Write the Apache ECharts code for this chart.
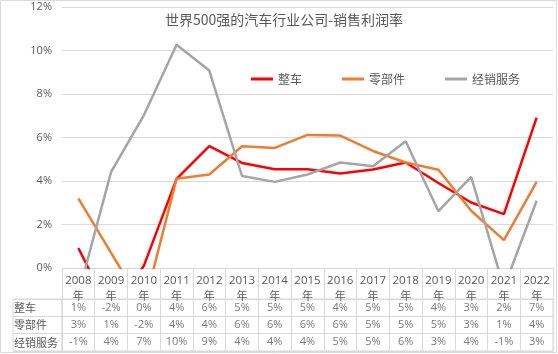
<!DOCTYPE html>
<html>
<head>
<meta charset="utf-8">
<script src="https://cdn.jsdelivr.net/npm/echarts@6/dist/echarts.min.js"></script>
<style>
  html, body { margin: 0; padding: 0; background: #fff; }
  #main { width: 558px; height: 354px; }
</style>
</head>
<body>
<div id="main"></div>
<script>
// 数据
var years = ['2008', '2009', '2010', '2011', '2012', '2013', '2014', '2015', '2016', '2017', '2018', '2019', '2020', '2021', '2022'];
var rowNames = ['整车', '零部件', '经销服务'];
var zhengche = [0.92, -2.1, 0.1, 4.1, 5.6, 4.83, 4.54, 4.54, 4.34, 4.53, 4.85, 3.91, 3.01, 2.48, 6.91];
var lingbujian = [3.2, 0.7, -1.8, 4.1, 4.3, 5.6, 5.52, 6.12, 6.09, 5.38, 4.85, 4.52, 2.63, 1.28, 3.96];
var jingxiao = [-1.2, 4.42, 7.02, 10.26, 9.08, 4.23, 3.96, 4.3, 4.85, 4.68, 5.83, 2.61, 4.19, -0.9, 3.09];
var yTicks = [0, 2, 4, 6, 8, 10, 12];

var colors = ['#ff0000', '#ed7d31', '#a5a5a5'];
var allSeries = [zhengche, lingbujian, jingxiao];
var lineGray = '#d9d9d9';
var txt = '#595959';
var numFont = 'Open Sans';
var cjkFont = 'Noto Sans CJK SC';

var myChart = echarts.init(document.getElementById('main'));

// 折线
var series = rowNames.map(function (name, k) {
  return {
    name: name,
    type: 'line',
    xAxisIndex: 0,
    yAxisIndex: 0,
    data: allSeries[k],
    symbol: 'none',
    lineStyle: { color: colors[k], width: 2.5 },
    itemStyle: { color: colors[k] },
    clip: true
  };
});

// 数据表格(每行一组文字)
rowNames.forEach(function (name, k) {
  series.push({
    type: 'scatter',
    xAxisIndex: 1,
    yAxisIndex: 1,
    symbolSize: 1,
    itemStyle: { color: 'rgba(0,0,0,0)' },
    silent: true,
    data: allSeries[k].map(function (v, i) { return [years[i], name, v]; }),
    label: {
      show: true,
      position: 'inside',
      color: txt,
      fontFamily: numFont,
      fontSize: 11,
      formatter: function (p) { return Math.round(p.value[2]) + '%'; }
    }
  });
});

var option = {
  animation: false,
  title: {
    text: '世界500强的汽车行业公司-销售利润率',
    left: 279,
    textAlign: 'center',
    top: 8,
    textStyle: { color: txt, fontSize: 14, fontWeight: 'normal', fontFamily: cjkFont }
  },
  legend: {
    left: 246,
    top: 68,
    itemWidth: 22,
    itemHeight: 3,
    itemGap: 40,
    icon: 'rect',
    data: rowNames,
    textStyle: { color: txt, fontSize: 12, fontFamily: cjkFont }
  },
  graphic: [{
    type: 'rect',
    shape: { x: 0.5, y: 0.5, width: 556, height: 352 },
    style: { fill: 'none', stroke: lineGray, lineWidth: 1 },
    silent: true
  }],
  grid: [
    { left: 62, right: 5, top: 7, height: 261 },
    { left: 62, right: 5, top: 299, height: 52, show: true, borderColor: lineGray, borderWidth: 1 },
    { left: 13, width: 49, top: 299, height: 52, show: true, borderColor: lineGray, borderWidth: 1 }
  ],
  xAxis: [
    {
      gridIndex: 0,
      type: 'category',
      data: years,
      boundaryGap: true,
      axisLine: { lineStyle: { color: lineGray, width: 1 } },
      axisTick: { show: true, length: 31, interval: 0, lineStyle: { color: lineGray } },
      axisLabel: {
        interval: 0,
        margin: 5,
        color: txt,
        fontSize: 11.5,
        lineHeight: 15,
        fontFamily: numFont,
        formatter: function (v) { return v + '\n{n|年}'; },
        rich: { n: { fontFamily: cjkFont, fontSize: 11, color: txt, lineHeight: 15 } }
      }
    },
    {
      gridIndex: 1,
      type: 'category',
      data: years,
      boundaryGap: true,
      axisLine: { show: false },
      axisTick: { show: false },
      axisLabel: { show: false },
      splitLine: { show: true, interval: 0, lineStyle: { color: lineGray } }
    },
    {
      gridIndex: 2,
      type: 'value',
      show: false
    }
  ],
  yAxis: [
    {
      gridIndex: 0,
      type: 'value',
      min: 0,
      max: 12,
      interval: 2,
      axisLine: { show: false },
      axisTick: { show: false },
      axisLabel: {
        margin: 10,
        color: txt,
        fontSize: 11,
        fontFamily: numFont,
        formatter: function (v) { return yTicks.indexOf(v) >= 0 ? v + '%' : ''; }
      },
      splitLine: { lineStyle: { color: lineGray, width: 1 } }
    },
    {
      gridIndex: 1,
      type: 'category',
      data: rowNames,
      inverse: true,
      axisLine: { show: false },
      axisTick: { show: false },
      axisLabel: { show: false },
      splitLine: { show: true, interval: 0, lineStyle: { color: lineGray } }
    },
    {
      gridIndex: 2,
      type: 'category',
      data: rowNames,
      inverse: true,
      axisLine: { show: false },
      axisTick: { show: false },
      axisLabel: {
        inside: true,
        margin: 1,
        color: txt,
        fontSize: 11,
        fontFamily: cjkFont
      },
      splitLine: { show: true, interval: 0, lineStyle: { color: lineGray } }
    }
  ],
  series: series
};

myChart.setOption(option);
</script>
</body>
</html>
